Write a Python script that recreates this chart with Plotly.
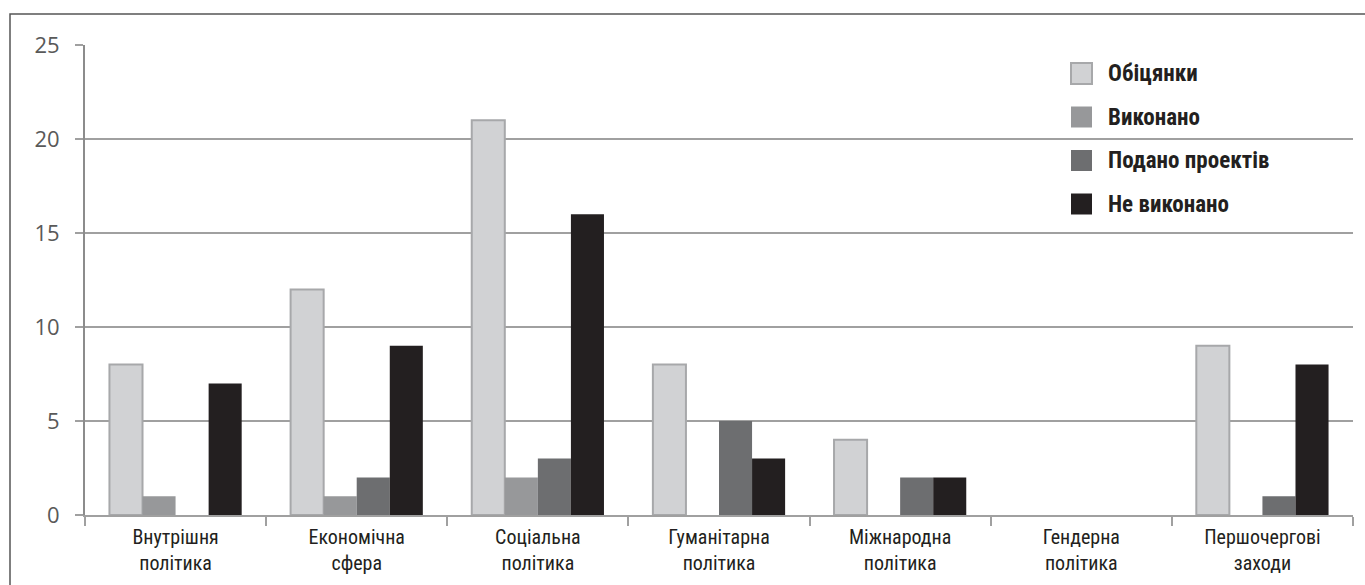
import plotly.graph_objects as go

categories = ["Внутрішня<br>політика", "Економічна<br>сфера", "Соціальна<br>політика",
              "Гуманітарна<br>політика", "Міжнародна<br>політика", "Гендерна<br>політика",
              "Першочергові<br>заходи"]
series_names = ["Обіцянки", "Виконано", "Подано проектів", "Не виконано"]
promises = [8, 12, 21, 8, 4, 0, 9]
done = [1, 1, 2, 0, 0, 0, 0]
drafts = [0, 2, 3, 5, 2, 0, 1]
not_done = [7, 9, 16, 3, 2, 0, 8]
y_ticks = [0, 5, 10, 15, 20, 25]

series_values = [promises, done, drafts, not_done]
fills = ["#d1d2d4", "#97989a", "#6d6e70", "#231f20"]
edges = ["#a7a8aa", "#97989a", "#6d6e70", "#231f20"]
edge_w = [2, 0, 0, 0]

cond = "Roboto Condensed, Open Sans Condensed, sans-serif"

# plot area in pixels
L, R, T, B = 85, 1353, 45, 515
W, H = R - L, B - T


def px(x):
    return (x - L) / W


def py(y):
    return (B - y) / H


fig = go.Figure()
for name, vals, fill, line, lw in zip(series_names, series_values, fills, edges, edge_w):
    fig.add_trace(go.Bar(
        x=categories, y=vals, name=name, showlegend=False,
        marker=dict(color=fill, line=dict(color=line, width=[lw if v > 0 else 0 for v in vals])),
    ))

shapes = [dict(
    type="rect", xref="paper", yref="paper",
    x0=px(10), x1=px(1380), y0=py(600), y1=py(14),
    line=dict(color="#555555", width=1.5), fillcolor="rgba(0,0,0,0)", layer="below",
)]
annotations = []
legend_y = [73.5, 117, 160.5, 204]
for name, fill, line, lw, yc in zip(series_names, fills, edges, edge_w, legend_y):
    shapes.append(dict(
        type="rect", xref="paper", yref="paper",
        x0=px(1071), x1=px(1092), y0=py(yc + 10.5), y1=py(yc - 10.5),
        fillcolor=fill, line=dict(color=line, width=2 if lw else 0),
    ))
    annotations.append(dict(
        xref="paper", yref="paper", x=px(1106), y=py(yc), xanchor="left", yanchor="middle",
        text=name, showarrow=False,
        font=dict(family=cond, size=23, color="#231f20", weight="bold"),
    ))

fig.update_layout(
    width=1365, height=585,
    paper_bgcolor="white", plot_bgcolor="white",
    margin=dict(l=L, r=1365 - R, t=T, b=585 - B, autoexpand=False),
    barmode="group", bargap=0.27, bargroupgap=0,
    showlegend=False,
    xaxis=dict(
        showgrid=False, showline=True, linecolor="#a0a0a0", linewidth=2,
        ticks="outside", tickson="boundaries", ticklen=9, tickcolor="#a0a0a0", tickwidth=2,
        tickfont=dict(family=cond, size=20, color="#231f20"),
        ticklabelstandoff=3,
        automargin=False,
    ),
    yaxis=dict(
        range=[0, 25], tickvals=y_ticks,
        showgrid=True, gridcolor="#a0a0a0", gridwidth=1.5,
        showline=True, linecolor="#8c8c8c", linewidth=2,
        ticks="outside", ticklen=8, tickcolor="#a0a0a0", tickwidth=1.5,
        tickfont=dict(family="Open Sans, sans-serif", size=22, color="#595959"),
        ticklabelstandoff=11,
        zeroline=False, automargin=False,
    ),
    shapes=shapes,
    annotations=annotations,
)

fig.write_html("out.html", config={"displayModeBar": False},
               post_script="document.body.style.margin='0';")
